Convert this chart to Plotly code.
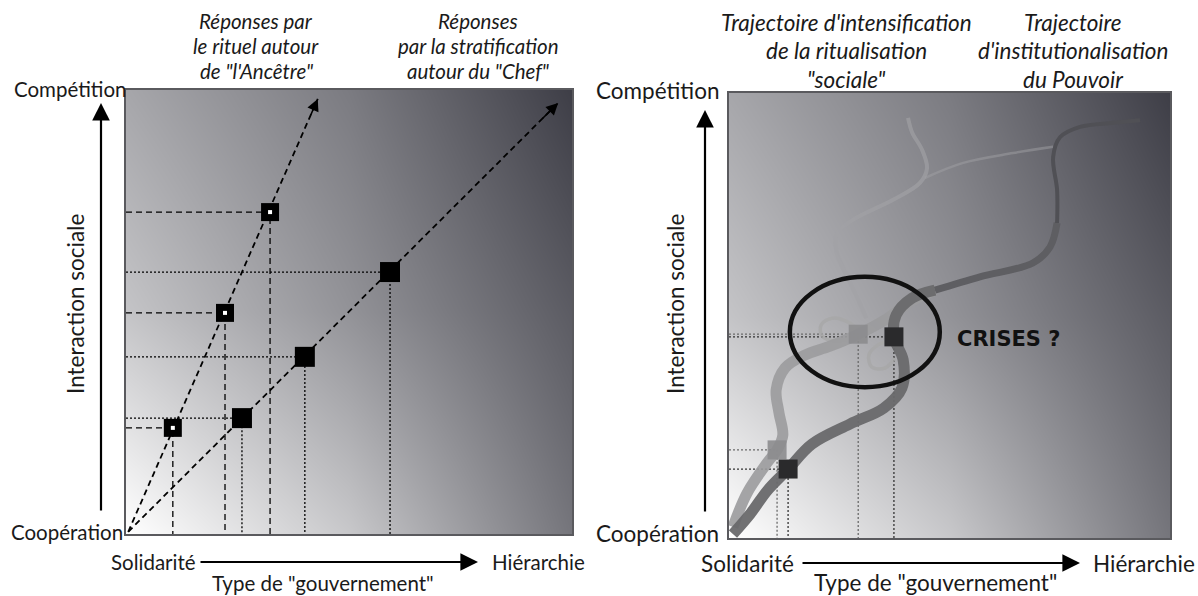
import plotly.graph_objects as go

W, H = 1198, 596

# ---------------- data (panel units 0-100) ----------------
# Left panel: two response lines from the origin
origin = [0.5, 0.5]
ritual_x = [10.5, 22.2, 32.3]
ritual_y = [23.9, 49.8, 72.5]
ritual_tip = [43.0, 98.0]
strat_x = [26.0, 40.1, 59.2]
strat_y = [26.1, 39.9, 59.0]
strat_tip = [96.9, 97.1]

# Right panel: trajectories
light_x = [0.9, 4.1, 8.8, 10.9, 12.2, 11.3, 10.7, 12.7, 17.2, 22.9, 29.3, 35.4, 41.0, 46.7]
light_y = [2.5, 10.1, 17.1, 19.8, 23.1, 28.3, 33.3, 38.2, 41.1, 43.1, 45.8, 49.0, 53.0, 55.7]
dark_x = [0.9, 4.8, 8.8, 13.4, 18.8, 27.4, 35.1, 39.2, 39.5, 37.4, 37.9, 41.5, 46.7]
dark_y = [0.9, 5.4, 10.8, 15.5, 21.1, 25.6, 29.2, 33.7, 40.0, 45.2, 50.1, 53.9, 55.7]
inst_x = [46.7, 56.9, 68.9, 72.8, 74.4, 74.4, 73.5, 75.1, 79.6, 87.1, 93.2]
inst_y = [55.7, 58.7, 61.8, 65.4, 70.8, 78.2, 85.6, 90.1, 92.4, 93.3, 93.9]
upper_x = [31.1, 28.8, 26.8, 24.3, 24.5, 28.1, 37.2, 43.3, 44.9, 43.8, 41.5, 40.6]
upper_y = [49.4, 54.6, 58.7, 64.7, 68.5, 71.5, 76.0, 79.8, 83.1, 87.2, 91.2, 94.4]
branch_x = [44.4, 53.1, 64.4, 73.5]
branch_y = [80.9, 84.3, 86.5, 87.9]
loopl_x = [29.7, 27.0, 23.4, 20.9, 21.1, 24.0, 29.3]
loopl_y = [46.3, 48.5, 49.4, 47.9, 45.4, 44.3, 45.4]
loopr_x = [37.0, 33.8, 31.7, 32.4, 35.4, 37.6]
loopr_y = [44.5, 43.4, 41.1, 38.4, 38.2, 40.4]
rlight_mx = [10.9, 29.3]
rlight_my = [19.8, 45.8]
rdark_mx = [13.4, 37.4]
rdark_my = [15.5, 45.2]
crisis_ellipse = [13.8, 33.9, 47.8, 58.7]  # x0, y0, x1, y1

# background shading grid (style)
bg_pos = [0, 50, 100]
bg_z = [[1.0, 0.72, 0.30],
        [0.70, 0.45, 0.17],
        [0.55, 0.33, 0.02]]

# ---------------- layout helpers ----------------
def px(x):
    return x / W

def py(y):
    return 1 - y / H

FONT = "Lato"
fig = go.Figure()

panels = [("x", "y"), ("x2", "y2")]
for xa, ya in panels:
    fig.add_trace(go.Heatmap(x=bg_pos, y=bg_pos, z=bg_z, zsmooth="best", showscale=False,
                             colorscale=[[0, "#3a3a43"], [1, "#ffffff"]], zmin=0, zmax=1,
                             hoverinfo="skip", xaxis=xa, yaxis=ya))

axis_common = dict(range=[0, 100], showgrid=False, zeroline=False, showticklabels=False,
                   ticks="", showline=True, mirror=True, linecolor="#5a5a5e", linewidth=2,
                   fixedrange=True)
fig.update_layout(
    width=W, height=H, margin=dict(l=0, r=0, t=0, b=0), paper_bgcolor="white",
    plot_bgcolor="white", showlegend=False,
    xaxis=dict(domain=[px(126), px(572)], **axis_common),
    yaxis=dict(domain=[py(534), py(90)], **axis_common),
    xaxis2=dict(domain=[px(729), px(1170)], anchor="y2", **axis_common),
    yaxis2=dict(domain=[py(538), py(93)], anchor="x2", **axis_common),
)

# ---------------- left panel ----------------
for mx, my in zip(ritual_x, ritual_y):
    fig.add_trace(go.Scatter(x=[0, mx, mx], y=[my, my, 0], mode="lines",
                             line=dict(color="black", width=1.3, dash="6px,4px"),
                             hoverinfo="skip", xaxis="x", yaxis="y"))
for mx, my in zip(strat_x, strat_y):
    fig.add_trace(go.Scatter(x=[0, mx, mx], y=[my, my, 0], mode="lines",
                             line=dict(color="black", width=1.3, dash="2px,2px"),
                             hoverinfo="skip", xaxis="x", yaxis="y"))
for tip in (ritual_tip, strat_tip):
    fig.add_trace(go.Scatter(x=[origin[0], tip[0]], y=[origin[1], tip[1]], mode="lines",
                             line=dict(color="black", width=1.8, dash="6px,4px"),
                             hoverinfo="skip", xaxis="x", yaxis="y"))
    fig.add_annotation(x=tip[0], y=tip[1], ax=origin[0] + (tip[0] - origin[0]) * 0.96,
                       ay=origin[1] + (tip[1] - origin[1]) * 0.96, xref="x", yref="y",
                       axref="x", ayref="y", showarrow=True, arrowhead=2, arrowsize=1.5,
                       arrowwidth=1.6, arrowcolor="black", text="", standoff=0)
fig.add_trace(go.Scatter(x=ritual_x, y=ritual_y, mode="markers",
                         marker=dict(symbol="square", size=18, color="black"),
                         hoverinfo="skip", xaxis="x", yaxis="y"))
fig.add_trace(go.Scatter(x=ritual_x, y=ritual_y, mode="markers",
                         marker=dict(symbol="square", size=4, color="white"),
                         hoverinfo="skip", xaxis="x", yaxis="y"))
fig.add_trace(go.Scatter(x=strat_x, y=strat_y, mode="markers",
                         marker=dict(symbol="square", size=20, color="black"),
                         hoverinfo="skip", xaxis="x", yaxis="y"))

# ---------------- right panel ----------------
for mx, my, col in list(zip(rlight_mx, rlight_my, ["#6a6a6a"] * 2)) + list(zip(rdark_mx, rdark_my, ["#333333"] * 2)):
    fig.add_trace(go.Scatter(x=[0, mx, mx], y=[my, my, 0], mode="lines",
                             line=dict(color=col, width=1.3, dash="2px,2px"),
                             hoverinfo="skip", xaxis="x2", yaxis="y2"))

def ribbon(xs, ys, color, width, opacity=1.0):
    fig.add_trace(go.Scatter(x=xs, y=ys, mode="lines", opacity=opacity,
                             line=dict(color=color, width=width, shape="spline", smoothing=1.0),
                             hoverinfo="skip", xaxis="x2", yaxis="y2"))

ribbon(branch_x, branch_y, "#a0a0a4", 2.5, 0.5)
ribbon(upper_x, upper_y, "#a2a2a6", 4, 0.65)
ribbon(loopl_x, loopl_y, "#a8a8a8", 3.5, 0.8)
ribbon(loopr_x, loopr_y, "#a8a8a8", 3.5, 0.8)
ribbon(light_x, light_y, "#9c9c9e", 11, 0.9)
ribbon(dark_x, dark_y, "#6a6a6c", 11, 0.95)
ribbon(inst_x[:5], inst_y[:5], "#5e5e62", 7)
ribbon(inst_x[4:], inst_y[4:], "#505055", 4)

fig.add_trace(go.Scatter(x=rlight_mx, y=rlight_my, mode="markers",
                         marker=dict(symbol="square", size=19, color="#8c8c8e", opacity=0.9),
                         hoverinfo="skip", xaxis="x2", yaxis="y2"))
fig.add_trace(go.Scatter(x=rdark_mx, y=rdark_my, mode="markers",
                         marker=dict(symbol="square", size=19, color="#2a2a2c"),
                         hoverinfo="skip", xaxis="x2", yaxis="y2"))

fig.add_shape(type="circle", xref="x2", yref="y2", x0=crisis_ellipse[0], y0=crisis_ellipse[1],
              x1=crisis_ellipse[2], y1=crisis_ellipse[3], line=dict(color="#111111", width=4.5))

# ---------------- text ----------------
def text(s, x, y, size, xanchor="center", italic=False, angle=0, family=FONT, bold=False, color="#1a1a1a"):
    if italic:
        s = "<i>" + s + "</i>"
    if bold:
        s = "<b>" + s + "</b>"
    fig.add_annotation(x=px(x), y=py(y), xref="paper", yref="paper", text=s, showarrow=False,
                       xanchor=xanchor, yanchor="middle", textangle=angle,
                       font=dict(family=family, size=size, color=color))

def arrow(x0, y0, x1, y1, width=2.2, size=1.6):
    fig.add_annotation(x=px(x1), y=py(y1), xref="paper", yref="paper", ax=x0 - x1, ay=y0 - y1,
                       axref="pixel", ayref="pixel", text="", showarrow=True, arrowhead=2,
                       arrowsize=size, arrowwidth=width, arrowcolor="black", standoff=0)

# left panel labels
text("Compétition", 129, 89, 20.5, "right")
text("Coopération", 125, 532, 20.5, "right")
text("Interaction sociale", 75, 304, 22.5, angle=-90)
text("Solidarité", 198, 562, 20.5, "right")
text("Hiérarchie", 490, 562, 20.5, "left")
text('Type de "gouvernement"', 323, 583, 20.5)
for i, line in enumerate(["Réponses par", "le rituel autour", 'de "l\'Ancêtre"']):
    text(line, 256, 21 + 25 * i, 20.5, italic=True)
for i, line in enumerate(["Réponses", "par la stratification", 'autour du "Chef"']):
    text(line, 478, 21 + 25 * i, 20.5, italic=True)
arrow(101, 512, 101, 103)
arrow(199, 562, 478, 562)

# right panel labels
text("Compétition", 722, 90, 22.5, "right")
text("Coopération", 721, 533, 22.5, "right")
text("Interaction sociale", 675, 304, 22.5, angle=-90)
text("Solidarité", 796, 563, 22.5, "right")
text("Hiérarchie", 1091, 563, 22.5, "left")
text('Type de "gouvernement"', 935, 582, 22.5)
for i, line in enumerate(["Trajectoire d'intensification", "de la ritualisation", '"sociale"']):
    text(line, 847, 22 + 28.5 * i, 22.5, italic=True)
for i, line in enumerate(["Trajectoire", "d'institutionalisation", "du Pouvoir"]):
    text(line, 1073, 22 + 28.5 * i, 22.5, italic=True)
text("CRISES ?", 955, 339, 21, "left", family="DejaVu Sans", bold=True, color="#111111")
arrow(705, 513, 705, 110)
arrow(801, 563, 1080, 563)

fig.write_html("out.html", config={"displayModeBar": False},
               post_script="document.body.style.margin='0';")
